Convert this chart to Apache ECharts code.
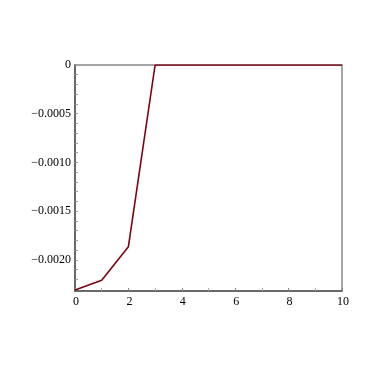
<!DOCTYPE html>
<html><head><meta charset="utf-8">
<script src="https://cdn.jsdelivr.net/npm/echarts@6/dist/echarts.min.js"></script>
<style>html,body{margin:0;padding:0;background:#fff}#c{width:375px;height:375px}</style>
</head><body><div id="c"></div>
<script>
var xValues = [0, 1, 2, 3, 4, 5, 6, 7, 8, 9, 10];
var yValues = [-0.00231, -0.00221, -0.001865, 0, 0, 0, 0, 0, 0, 0, 0];
var yTickValues = [0, -0.0005, -0.0010, -0.0015, -0.0020];
var yTickLabels = ['0', '\u22120.0005', '\u22120.0010', '\u22120.0015', '\u22120.0020'];
var yMinorTickValues = [0, -0.0001, -0.0002, -0.0003, -0.0004, -0.0005, -0.0006, -0.0007, -0.0008, -0.0009, -0.0010,
  -0.0011, -0.0012, -0.0013, -0.0014, -0.0015, -0.0016, -0.0017, -0.0018, -0.0019, -0.0020, -0.0021, -0.0022, -0.0023];

var chart = echarts.init(document.getElementById('c'));
var font = 'Liberation Serif';
chart.setOption({
  animation: false,
  backgroundColor: '#fff',
  grid: {left: 75, top: 65, width: 267, height: 226, show: true, borderColor: '#888', borderWidth: 1.5, backgroundColor: 'transparent'},
  xAxis: {
    type: 'value', min: 0, max: 10, interval: 2,
    axisLine: {show: true, onZero: false, lineStyle: {color: '#555', width: 1.5}},
    axisTick: {show: true, inside: true, length: 3, lineStyle: {color: '#888'}},
    minorTick: {show: true, splitNumber: 2, length: 3, lineStyle: {color: '#aaa'}},
    splitLine: {show: false},
    axisLabel: {color: '#000', fontFamily: font, fontSize: 12, margin: 5, padding: [0, 0, 0, 2]}
  },
  yAxis: {
    type: 'value', min: -0.00232, max: 0,
    axisLine: {show: true, lineStyle: {color: '#555', width: 1.5}},
    axisTick: {show: true, inside: true, length: 3, customValues: yMinorTickValues, lineStyle: {color: '#999'}},
    splitLine: {show: false},
    axisLabel: {color: '#000', fontFamily: font, fontSize: 12, margin: 4,
      customValues: yTickValues,
      formatter: function (v) {
        for (var i = 0; i < yTickValues.length; i++) if (Math.abs(v - yTickValues[i]) < 1e-9) return yTickLabels[i];
        return '';
      }}
  },
  series: [{
    type: 'line',
    data: xValues.map(function (x, i) { return [x, yValues[i]]; }),
    symbol: 'none',
    lineStyle: {color: '#800010', width: 1.6}
  }]
});
</script></body></html>
